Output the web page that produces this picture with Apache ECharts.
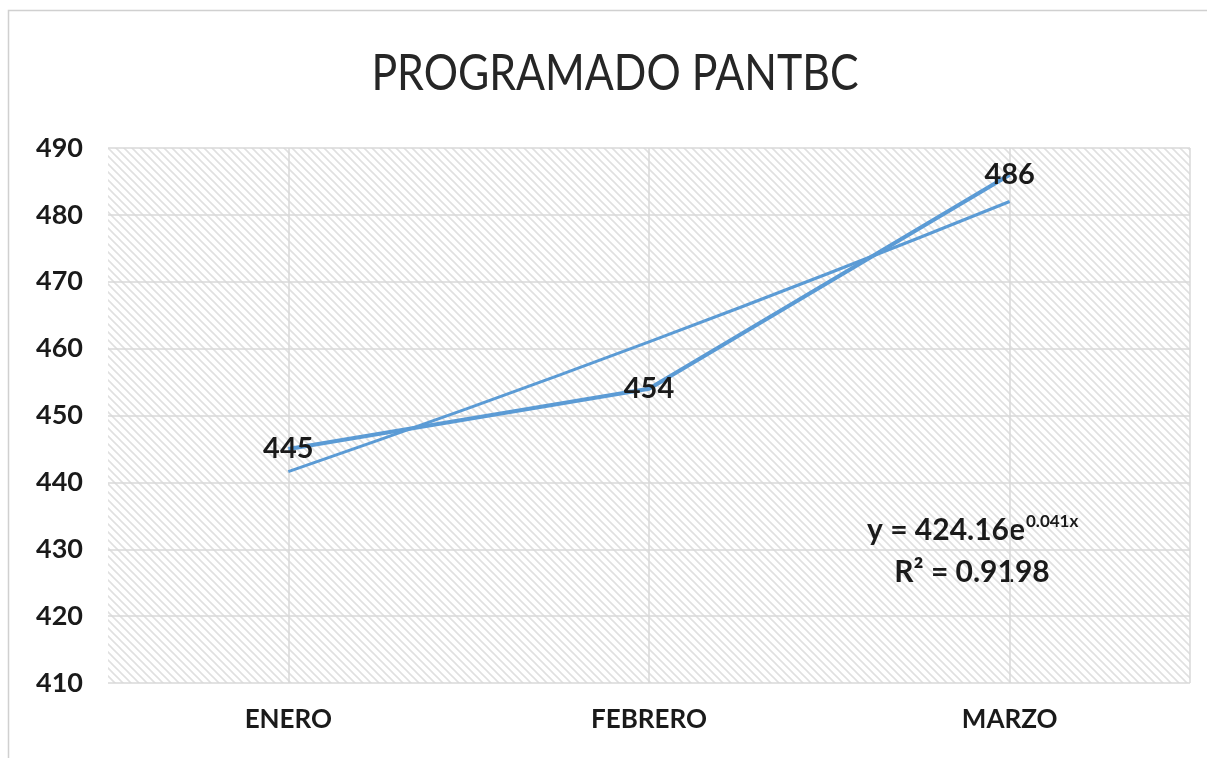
<!DOCTYPE html>
<html>
<head>
<meta charset="utf-8">
<script src="https://cdn.jsdelivr.net/npm/echarts@6/dist/echarts.min.js"></script>
<style>
  html, body { margin: 0; padding: 0; background: #fff; }
  #main { width: 1207px; height: 758px; }
</style>
</head>
<body>
<div id="main"></div>
<script>
// datos
const months = ['ENERO', 'FEBRERO', 'MARZO']
const programado = [445, 454, 486]
// linea de tendencia exponencial
const tendencia = [441.6, 461, 482]
const yMin = 410
const yMax = 490
const yStep = 10
const titulo = 'PROGRAMADO PANTBC'
const ecuacion = 'y = 424.16e'
const exponente = '0.041x'
const r2 = 'R² = 0.9198'

// rejilla secundaria: 2 huecos por mes, asi las lineas verticales caen sobre cada mes
const halfSlots = months.flatMap(() => ['', ''])

// trama diagonal del area de trazado
function hatch () {
  const s = 8
  const c = document.createElement('canvas')
  c.width = s
  c.height = s
  const ctx = c.getContext('2d')
  ctx.fillStyle = '#ffffff'
  ctx.fillRect(0, 0, s, s)
  ctx.strokeStyle = '#e0e0e0'
  ctx.lineWidth = 1.6
  ctx.beginPath()
  ctx.moveTo(-2, -2); ctx.lineTo(s + 2, s + 2)
  ctx.moveTo(-s - 2, -2); ctx.lineTo(2, s + 2)
  ctx.moveTo(s - 2, -2); ctx.lineTo(2 * s + 2, s + 2)
  ctx.stroke()
  return c
}

const font = 'Lato, "Open Sans", sans-serif'
const chart = echarts.init(document.getElementById('main'))
chart.setOption({
  animation: false,
  backgroundColor: '#fff',
  grid: {
    left: 108,
    right: 17,
    top: 148,
    bottom: 75,
    show: true,
    borderWidth: 0,
    backgroundColor: { image: hatch(), repeat: 'repeat' }
  },
  xAxis: [
    {
      type: 'category',
      data: months,
      boundaryGap: true,
      axisLine: { show: false },
      axisTick: { show: false },
      splitLine: { show: false },
      axisLabel: { margin: 24, fontFamily: font, fontWeight: 'bold', fontSize: 26, color: '#1a1a1a' }
    },
    {
      type: 'category',
      data: halfSlots,
      position: 'bottom',
      boundaryGap: true,
      axisLine: { show: false },
      axisTick: { show: false },
      axisLabel: { show: false },
      splitLine: {
        show: true,
        interval: (idx) => idx % 2 === 1,
        lineStyle: { color: '#d9d9d9', width: 1.5 }
      }
    }
  ],
  yAxis: {
    type: 'value',
    min: yMin,
    max: yMax,
    interval: yStep,
    axisLine: { show: false },
    axisTick: { show: false },
    axisLabel: { margin: 25, fontFamily: font, fontWeight: 'bold', fontSize: 27, color: '#1a1a1a' },
    splitLine: { lineStyle: { color: '#d9d9d9', width: 1.5 } }
  },
  series: [
    {
      name: 'Exponencial',
      type: 'line',
      data: tendencia,
      smooth: true,
      symbol: 'none',
      lineStyle: { color: '#5b9bd5', width: 3 },
      z: 2
    },
    {
      name: 'Programado',
      type: 'line',
      data: programado,
      symbol: 'circle',
      symbolSize: 1,
      showSymbol: true,
      itemStyle: { color: 'rgba(91,155,213,0)', borderWidth: 0 },
      lineStyle: { color: '#5b9bd5', width: 4 },
      label: {
        show: true,
        position: 'inside',
        fontFamily: font,
        fontWeight: 'bold',
        fontSize: 29,
        color: '#1a1a1a'
      },
      z: 3
    }
  ],
  graphic: [
    {
      type: 'rect',
      silent: true,
      shape: { x: 8.5, y: 10.5, width: 1300, height: 900 },
      style: { fill: 'none', stroke: '#d0d0d0', lineWidth: 1.5 },
      z: -10
    },
    {
      // titulo estrecho, como Calibri
      type: 'text',
      x: 615,
      y: 74,
      scaleX: 0.84,
      style: {
        text: titulo,
        align: 'center',
        verticalAlign: 'middle',
        font: '51px ' + font,
        fill: '#262626'
      }
    },
    {
      type: 'text',
      x: 1025,
      y: 530,
      style: {
        text: ecuacion,
        align: 'right',
        verticalAlign: 'middle',
        font: 'bold 30px ' + font,
        fill: '#1a1a1a'
      }
    },
    {
      type: 'text',
      x: 1026,
      y: 522,
      style: {
        text: exponente,
        align: 'left',
        verticalAlign: 'middle',
        font: 'bold 17px ' + font,
        fill: '#1a1a1a'
      }
    },
    {
      type: 'text',
      x: 972,
      y: 572,
      style: {
        text: r2,
        align: 'center',
        verticalAlign: 'middle',
        font: 'bold 30px ' + font,
        fill: '#1a1a1a'
      }
    }
  ]
})
</script>
</body>
</html>
